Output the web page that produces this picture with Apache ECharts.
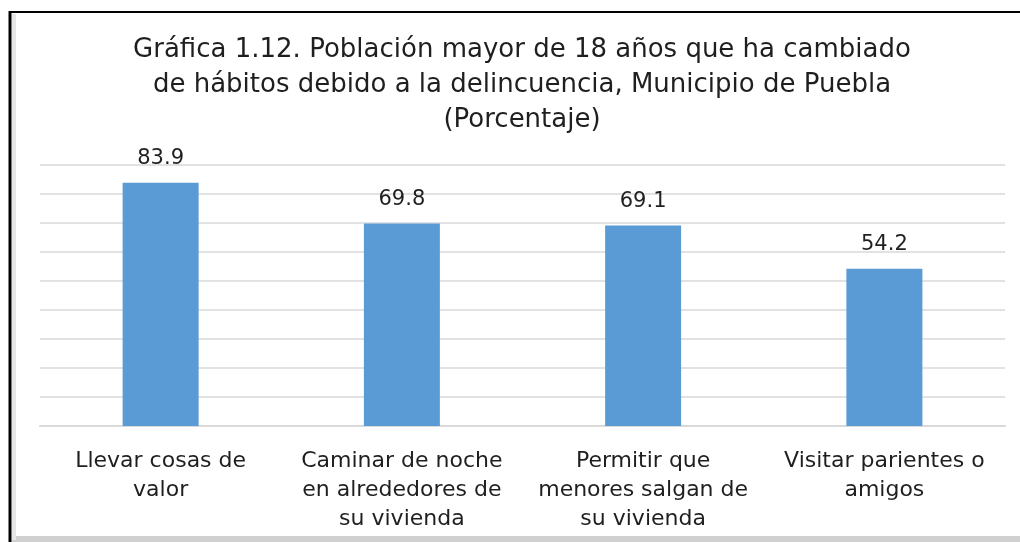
<!DOCTYPE html>
<html><head><meta charset="utf-8">
<script src="https://cdn.jsdelivr.net/npm/echarts@6/dist/echarts.min.js"></script>
<style>html,body{margin:0;padding:0;background:#fff}#c{width:1020px;height:542px}</style>
</head><body><div id="c"></div>
<script>
const categories = ["Llevar cosas de\nvalor", "Caminar de noche\nen alrededores de\nsu vivienda", "Permitir que\nmenores salgan de\nsu vivienda", "Visitar parientes o\namigos"];
const values = [83.9, 69.8, 69.1, 54.2];
const titleLines = ["Gráfica 1.12. Población mayor de 18 años que ha cambiado", "de hábitos debido a la delincuencia, Municipio de Puebla", "(Porcentaje)"];
const FONT = '"DejaVu Sans", sans-serif';
const chart = echarts.init(document.getElementById('c'), null, {renderer:'canvas'});
chart.setOption({
  animation:false,
  backgroundColor:'#fff',
  graphic:[
    {type:'rect', shape:{x:12, y:536, width:1008, height:6}, style:{fill:'#d0d0d0'}, z:-1},
    {type:'rect', shape:{x:12, y:14, width:4, height:526}, style:{fill:'#e6e6e6'}, z:-1},
    {type:'line', shape:{x1:10, y1:12, x2:1020, y2:12}, style:{stroke:'#000', lineWidth:2}},
    {type:'line', shape:{x1:10, y1:11, x2:10, y2:542}, style:{stroke:'#000', lineWidth:3}},
    {type:'text', x:522, y:33, style:{text:titleLines.join('\n'), font:'26px '+FONT, fill:'#1f1f1f', align:'center', lineHeight:35}}
  ],
  grid:{left:40, right:15, top:165, bottom:116, containLabel:false},
  xAxis:{type:'category', data:categories,
    axisLine:{lineStyle:{color:'#d9d9d9', width:2}}, axisTick:{show:false},
    axisLabel:{interval:0, fontSize:22, lineHeight:29, margin:21, color:'#1f1f1f', fontFamily:FONT}},
  yAxis:{type:'value', min:0, max:90, interval:10, axisLabel:{show:false}, axisLine:{show:false}, axisTick:{show:false},
    splitLine:{lineStyle:{color:'#d9d9d9', width:1.5}}},
  series:[{type:'bar', data:values, barWidth:76, itemStyle:{color:'#5B9BD5'},
    label:{show:true, position:'top', distance:14, fontSize:21, color:'#1f1f1f', fontFamily:FONT, formatter:p=>p.value.toFixed(1)}}]
});
</script></body></html>
